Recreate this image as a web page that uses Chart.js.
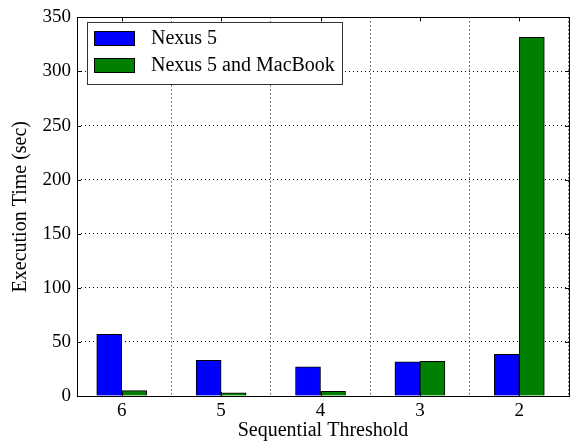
<!DOCTYPE html>
<html>
<head>
    <title>Execution Time vs Sequential Threshold</title>
    <script src="https://cdn.jsdelivr.net/npm/chart.js"></script>
    <style>
        html, body { margin: 0; padding: 0; background: #fff; }
        .chart-container { position: relative; width: 578px; height: 445px; }
    </style>
</head>
<body>
    <div class="chart-container">
        <canvas id="chart"></canvas>
    </div>

    <script>
        // data
        var categories = ['6', '5', '4', '3', '2'];
        var nexus5 = [57, 33, 27, 31.5, 38.5];
        var nexus5MacBook = [5, 3, 4.3, 32, 331.5];
        var yTicks = [0, 50, 100, 150, 200, 250, 300, 350];

        var FONT = '"Liberation Serif", "DejaVu Serif", serif';

        function toPoints(values) {
            return values.map(function(v, i) { return { x: i, y: v }; });
        }

        // frame, inside ticks and the legend box (matplotlib style)
        var framePlugin = {
            id: 'frame',
            afterDraw: function(chart) {
                var ctx = chart.ctx;
                var a = chart.chartArea;
                var xs = chart.scales.x, ys = chart.scales.y;
                ctx.save();
                ctx.strokeStyle = '#000';
                ctx.lineWidth = 1;
                ctx.strokeRect(Math.round(a.left) + 0.5, Math.round(a.top) + 0.5,
                               Math.round(a.right - a.left), Math.round(a.bottom - a.top));
                ctx.beginPath();
                categories.forEach(function(c, i) {
                    var px = Math.round(xs.getPixelForValue(i)) + 0.5;
                    ctx.moveTo(px, a.bottom); ctx.lineTo(px, a.bottom - 4);
                    ctx.moveTo(px, a.top); ctx.lineTo(px, a.top + 4);
                });
                yTicks.forEach(function(t) {
                    var py = Math.round(ys.getPixelForValue(t)) + 0.5;
                    ctx.moveTo(a.left, py); ctx.lineTo(a.left + 4, py);
                    ctx.moveTo(a.right, py); ctx.lineTo(a.right - 4, py);
                });
                ctx.stroke();

                // legend
                var bx = 87, by = 22, bw = 255, bh = 62;
                ctx.fillStyle = '#fff';
                ctx.fillRect(bx, by, bw, bh);
                ctx.strokeStyle = '#333';
                ctx.strokeRect(bx + 0.5, by + 0.5, bw, bh);
                ctx.font = '20px ' + FONT;
                ctx.textBaseline = 'middle';
                chart.data.datasets.forEach(function(ds, i) {
                    var cy = 38 + i * 27;
                    ctx.fillStyle = ds.backgroundColor;
                    ctx.fillRect(94, cy - 7, 40, 14);
                    ctx.strokeStyle = '#000';
                    ctx.strokeRect(94.5, cy - 6.5, 40, 14);
                    ctx.fillStyle = '#000';
                    ctx.fillText(ds.label, 151, cy + 1);
                });
                ctx.restore();
            }
        };

        var ctx = document.getElementById('chart').getContext('2d');
        new Chart(ctx, {
            type: 'bar',
            data: {
                datasets: [
                    {
                        label: 'Nexus 5',
                        data: toPoints(nexus5),
                        backgroundColor: '#0000ff',
                        borderColor: '#000',
                        borderWidth: 1,
                        barThickness: 25
                    },
                    {
                        label: 'Nexus 5 and MacBook',
                        data: toPoints(nexus5MacBook),
                        backgroundColor: '#008000',
                        borderColor: '#000',
                        borderWidth: 1,
                        barThickness: 25
                    }
                ]
            },
            options: {
                responsive: true,
                maintainAspectRatio: false,
                animation: false,
                layout: { padding: { left: 0, right: 9, top: 12, bottom: 0 } },
                plugins: {
                    legend: { display: false },
                    tooltip: { enabled: false }
                },
                scales: {
                    x: {
                        type: 'linear',
                        min: -0.45,
                        max: 4.5,
                        offset: false,
                        afterBuildTicks: function(scale) {
                            scale.ticks = categories.map(function(c, i) { return { value: i }; });
                        },
                        afterFit: function(scale) { scale.height = 49; },
                        grid: {
                            color: '#000',
                            lineWidth: 1,
                            drawTicks: false
                        },
                        border: { display: false, dash: [1, 3] },
                        ticks: {
                            padding: 4,
                            color: '#000',
                            font: { family: FONT, size: 19 },
                            callback: function(v) { return categories[v]; }
                        },
                        title: {
                            display: true,
                            text: 'Sequential Threshold',
                            color: '#000',
                            font: { family: FONT, size: 20 },
                            padding: { top: 0, bottom: 2 }
                        }
                    },
                    y: {
                        min: 0,
                        max: 350,
                        afterBuildTicks: function(scale) {
                            scale.ticks = yTicks.map(function(t) { return { value: t }; });
                        },
                        afterFit: function(scale) { scale.width = 77; },
                        grid: {
                            color: '#000',
                            lineWidth: 1,
                            drawTicks: false
                        },
                        border: { display: false, dash: [1, 3] },
                        ticks: {
                            padding: 6,
                            color: '#000',
                            font: { family: FONT, size: 19 }
                        },
                        title: {
                            display: true,
                            text: 'Execution Time (sec)',
                            color: '#000',
                            font: { family: FONT, size: 20 },
                            padding: { top: 9, bottom: 0 }
                        }
                    }
                }
            },
            plugins: [framePlugin]
        });
    </script>
</body>
</html>
